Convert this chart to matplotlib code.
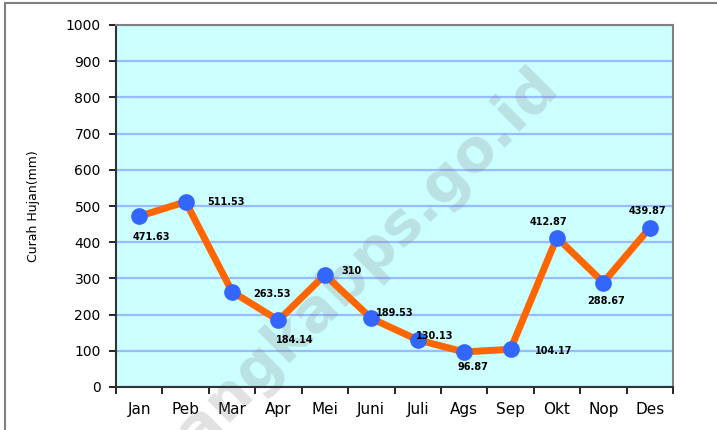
import matplotlib
matplotlib.use("Agg")
import numpy as np
from matplotlib import pyplot as plt
from matplotlib.patches import Rectangle


# monthly rainfall data
months = ["Jan", "Peb", "Mar", "Apr", "Mei", "Juni", "Juli", "Ags", "Sep", "Okt", "Nop", "Des"]
rainfall = [471.63, 511.53, 263.53, 184.14, 310, 189.53, 130.13, 96.87, 104.17, 412.87, 288.67, 439.87]
value_labels = ["471.63", "511.53", "263.53", "184.14", "310", "189.53", "130.13", "96.87", "104.17", "412.87", "288.67", "439.87"]

# label offsets in points (dx, dy) relative to each marker
label_offsets = [(9, -15), (29, 0), (29, -2), (12, -14), (19, 3), (17, 4),
                 (12, 3), (6, -11), (31, -1), (-6, 11), (2, -13), (-2, 12)]

fig = plt.figure(figsize=(7.17, 4.30), dpi=100)

# outer chart border (only top and left show in the picture)
fig.patches.append(Rectangle((5 / 717, -0.1), 1.2, 1 - 3 / 430 + 0.1, transform=fig.transFigure,
                             fill=False, edgecolor="#808080", linewidth=1.5))

ax = fig.add_axes([116 / 717, 1 - 387 / 430, 557 / 717, 362 / 430])
ax.set_facecolor("#ccffff")

x = np.arange(len(months))
ax.set_xlim(-0.5, len(months) - 0.5)
ax.set_ylim(0, 1000)

ax.set_yticks(np.arange(0, 1001, 100))
ax.yaxis.grid(True, color="#99bbff", linewidth=1.6)
ax.set_axisbelow(True)

# watermark (runs off the bottom edge, as in the source image)
ax.text(0.424, 0.315, "bangkabps.go.id", transform=ax.transAxes, rotation=45,
        fontsize=42.5, fontweight="bold", color="#808080", alpha=0.23,
        ha="center", va="center", zorder=1, clip_on=False)

ax.plot(x, rainfall, color="#ff6600", linewidth=5, marker="o", markersize=11,
        markerfacecolor="#3366ff", markeredgecolor="#3366ff", zorder=3)

for i in range(len(months)):
    ax.annotate(value_labels[i], (x[i], rainfall[i]), xytext=label_offsets[i],
                textcoords="offset points", ha="center", va="center",
                fontsize=7, fontweight="bold", color="black", zorder=4)

# category ticks sit between the months, like a spreadsheet chart
ax.set_xticks(x)
ax.set_xticklabels(months, fontsize=11)
ax.set_xticks(np.arange(-0.5, len(months), 1), minor=True)
ax.tick_params(axis="x", which="major", length=0, pad=11)
ax.tick_params(axis="x", which="minor", length=5, width=1.2, direction="out")
ax.tick_params(axis="y", length=5, width=1.2, direction="out", labelsize=10, pad=6)

for side in ["left", "bottom"]:
    ax.spines[side].set_color("#333333")
    ax.spines[side].set_linewidth(1.5)
for side in ["top", "right"]:
    ax.spines[side].set_color("#808080")
    ax.spines[side].set_linewidth(1.5)

fig.text(33 / 717, 1 - 206 / 430, "Curah Hujan(mm)", rotation=90, ha="center", va="center", fontsize=9)

fig.savefig("out.png", dpi=100)
